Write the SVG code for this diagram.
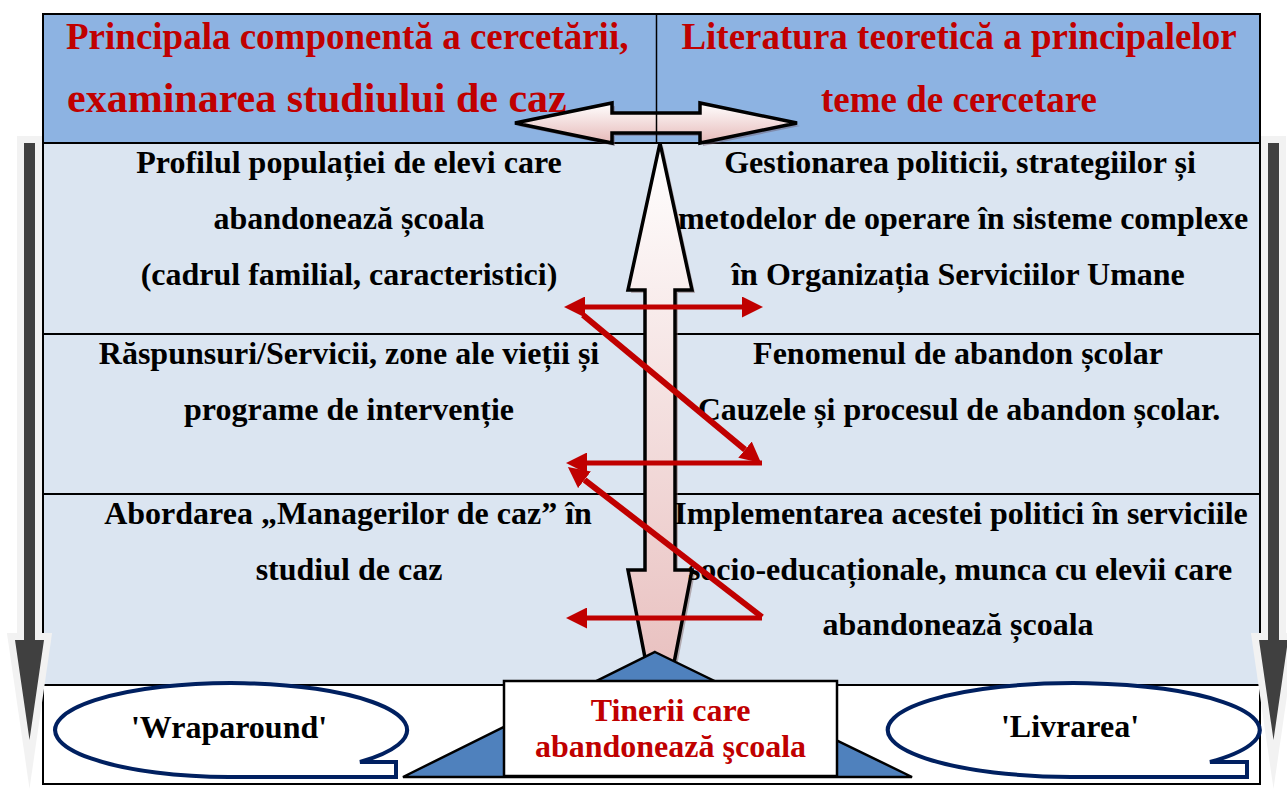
<svg xmlns="http://www.w3.org/2000/svg" width="1287" height="790" viewBox="0 0 1287 790">
<style>
.hdr{font-family:"Liberation Serif","Times New Roman",serif;font-weight:bold;font-size:37px;fill:#C00000}
.hdr2{font-size:42px}
.body{font-family:"Liberation Serif","Times New Roman",serif;font-weight:bold;font-size:32px;fill:#000;text-anchor:middle}
.red{font-family:"Liberation Serif","Times New Roman",serif;font-weight:bold;font-size:32px;fill:#C00000;text-anchor:middle}
.grid{stroke:#000;stroke-width:2;fill:none}
.conn{stroke:#C00000;fill:none}
.side{fill:#404040;stroke:#F2F2F2;stroke-width:14;paint-order:stroke;stroke-miterlimit:12}
.callout{fill:#fff;stroke:#002060;stroke-width:4}
</style>
<defs>
<linearGradient id="gv" x1="0" y1="143" x2="0" y2="735" gradientUnits="userSpaceOnUse">
<stop offset="0" stop-color="#FFFFFF"/><stop offset="1" stop-color="#E6B9B8"/>
</linearGradient>
<linearGradient id="gh" x1="0" y1="103" x2="0" y2="143" gradientUnits="userSpaceOnUse">
<stop offset="0" stop-color="#FFFFFF"/><stop offset="1" stop-color="#E6B9B8"/>
</linearGradient>
<marker id="ah" viewBox="0 0 21 21" refX="0" refY="10.5" markerWidth="21" markerHeight="21" markerUnits="userSpaceOnUse" orient="auto-start-reverse">
<path d="M0,0 L21,10.5 L0,21 Z" fill="#C00000"/>
</marker>
</defs>

<g id="table">
<rect x="43" y="14" width="1217" height="129" fill="#8DB3E2"/>
<rect x="43" y="143" width="1217" height="542" fill="#DBE5F1"/>
<rect x="43" y="685" width="1217" height="99" fill="#FFFFFF"/>
<line class="grid" x1="43" y1="143" x2="1260" y2="143"/>
<line class="grid" x1="43" y1="334" x2="1260" y2="334"/>
<line class="grid" x1="43" y1="494" x2="1260" y2="494"/>
<line class="grid" x1="43" y1="685" x2="1260" y2="685"/>
<rect class="grid" x="43" y="14" width="1217" height="770" stroke-width="2.5"/>
</g>

<g id="header-left">
<text class="hdr" x="66" y="49">Principala componentă a cercetării,</text>
<text class="hdr hdr2" x="67" y="112">examinarea studiului de caz</text>
</g>
<g id="header-right">
<text class="hdr" x="959" y="49" text-anchor="middle">Literatura teoretică a principalelor</text>
<text class="hdr" x="959" y="112" text-anchor="middle">teme de cercetare</text>
</g>

<g id="side-arrow-left">
<path class="side" d="M24,143 L35,143 L35,640 L44,640 L29.5,740 L15,640 L24,640 Z"/>
</g>
<g id="side-arrow-right">
<path class="side" d="M1268,143 L1279,143 L1279,640 L1288,640 L1273.5,740 L1259,640 L1268,640 Z"/>
</g>

<g id="horizontal-double-arrow">
<path d="M515,123 L612,103 L612,113 L700,113 L700,103 L797,123 L700,143 L700,133 L612,133 L612,143 Z" fill="#6E5A6A" opacity="0.45" transform="translate(3,3)"/>
<path d="M515,123 L612,103 L612,113 L700,113 L700,103 L797,123 L700,143 L700,133 L612,133 L612,143 Z" fill="url(#gh)" stroke="#000" stroke-width="3.5" stroke-linejoin="miter"/>
</g>

<g id="vertical-double-arrow">
<path d="M660,143 L692,290 L675,290 L675,570 L692,570 L660,735 L628,570 L645,570 L645,290 L628,290 Z" fill="#7F6060" opacity="0.45" transform="translate(3,3)"/>
<path d="M660,143 L692,290 L675,290 L675,570 L692,570 L660,735 L628,570 L645,570 L645,290 L628,290 Z" fill="url(#gv)" stroke="#000" stroke-width="3.5"/>
</g>
<line x1="656.5" y1="14" x2="656.5" y2="143" stroke="#000" stroke-width="1.5"/>

<g id="row1-left">
<text class="body" x="349" y="173">Profilul populației de elevi care</text>
<text class="body" x="349" y="229">abandonează școala</text>
<text class="body" x="349" y="285">(cadrul familial, caracteristici)</text>
</g>
<g id="row1-right">
<text class="body" x="960" y="173">Gestionarea politicii, strategiilor și</text>
<text class="body" x="963" y="229">metodelor de operare în sisteme complexe</text>
<text class="body" x="958" y="285">în Organizația Serviciilor Umane</text>
</g>
<g id="row2-left">
<text class="body" x="349" y="364">Răspunsuri/Servicii, zone ale vieții și</text>
<text class="body" x="349" y="420">programe de intervenție</text>
</g>
<g id="row2-right">
<text class="body" x="958" y="364">Fenomenul de abandon școlar</text>
<text class="body" x="959" y="420">Cauzele și procesul de abandon școlar.</text>
</g>
<g id="row3-left">
<text class="body" x="348" y="524">Abordarea „Managerilor de caz” în</text>
<text class="body" x="349" y="580">studiul de caz</text>
</g>
<g id="row3-right">
<text class="body" x="961" y="524">Implementarea acestei politici în serviciile</text>
<text class="body" x="960" y="580">socio-educaționale, munca cu elevii care</text>
<text class="body" x="958" y="635">abandonează școala</text>
</g>

<g id="triangle">
<path d="M655,652 L912,777 L403,777 Z" fill="#4F81BD" stroke="#000" stroke-width="2.5" stroke-linejoin="miter"/>
</g>

<g id="center-box">
<rect x="504" y="681" width="333" height="95" fill="#FFFFFF" stroke="#000" stroke-width="2.5"/>
<text class="red" x="670.5" y="721">Tinerii care</text>
<text class="red" x="670.5" y="757">abandonează şcoala</text>
</g>

<g id="callout-wraparound">
<path class="callout" d="M229,777 A176,47 0 1 1 360,762 L396,762 L396,777 Z"/>
<text class="body" x="229" y="738">'Wraparound'</text>
</g>
<g id="callout-livrarea">
<path class="callout" d="M1071,777 A186,47 0 1 1 1210,762 L1247,762 L1247,777 Z"/>
<text class="body" x="1070" y="737">'Livrarea'</text>
</g>

<g id="connectors">
<line class="conn" x1="585" y1="307" x2="742" y2="307" stroke-width="5" marker-start="url(#ah)" marker-end="url(#ah)"/>
<line class="conn" x1="583" y1="315" x2="745" y2="449.6" stroke-width="6" marker-end="url(#ah)"/>
<line class="conn" x1="762" y1="463" x2="587" y2="463" stroke-width="5" marker-end="url(#ah)"/>
<line class="conn" x1="762" y1="617" x2="584.5" y2="479.8" stroke-width="6" marker-end="url(#ah)"/>
<line class="conn" x1="762" y1="618" x2="587" y2="618" stroke-width="5" marker-end="url(#ah)"/>
</g>
</svg>
